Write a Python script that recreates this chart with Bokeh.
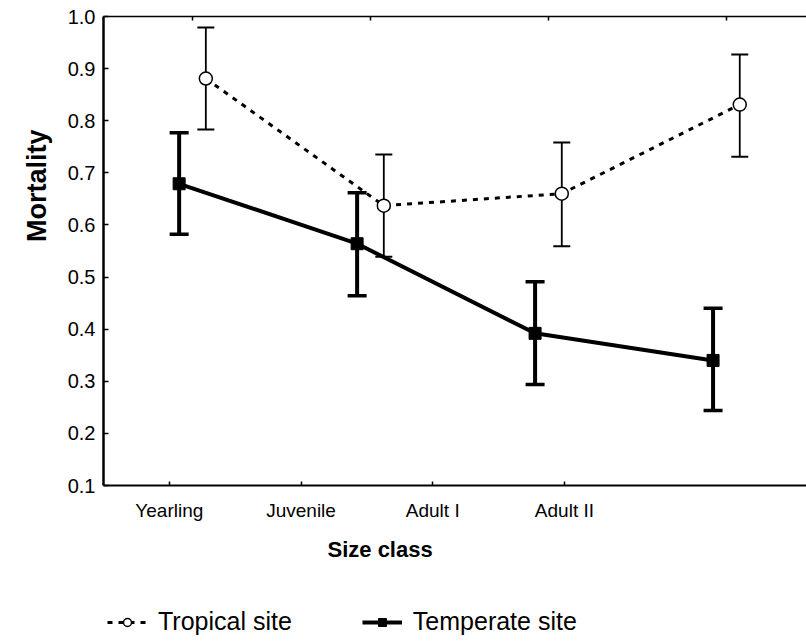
from bokeh.plotting import figure
from bokeh.layouts import column
from bokeh.models import (Range1d, LinearAxis, FixedTicker, ColumnDataSource, Whisker,
                          TeeHead, Legend, LegendItem, Title, NumeralTickFormatter)
from bokeh.embed import file_html
from bokeh.resources import INLINE

# ---- data ----
categories = ["Yearling", "Juvenile", "Adult I", "Adult II"]
tropical_mean = [0.881, 0.637, 0.660, 0.831]
tropical_upper = [0.979, 0.735, 0.758, 0.927]
tropical_lower = [0.783, 0.539, 0.559, 0.731]
temperate_mean = [0.679, 0.564, 0.392, 0.340]
temperate_upper = [0.777, 0.662, 0.491, 0.440]
temperate_lower = [0.582, 0.464, 0.294, 0.244]
y_ticks = [0.1, 0.2, 0.3, 0.4, 0.5, 0.6, 0.7, 0.8, 0.9, 1.0]
series_labels = ["Tropical site", "Temperate site"]
x_title = "Size class"
y_title = "Mortality"

FONT = "Liberation Sans"
DODGE = 0.075
x_center = [i + 0.5 for i in range(len(categories))]
x_trop = [c + DODGE for c in x_center]
x_temp = [c - DODGE for c in x_center]

p = figure(width=806, height=600, output_backend="svg", toolbar_location=None,
           x_range=Range1d(0, 3.95), y_range=Range1d(0.1, 1.0),
           x_axis_location="above",
           min_border_left=103, min_border_right=0, min_border_top=16, min_border_bottom=115)
p.grid.visible = False
p.outline_line_color = None
p.background_fill_color = "white"
p.border_fill_color = "white"

# top axis (data scale): line + small inward ticks, no labels
top = p.xaxis[0]
top.ticker = FixedTicker(ticks=x_center)
top.major_label_overrides = {c: "" for c in x_center}
top.major_tick_in = 4
top.major_tick_out = 0
top.minor_tick_in = 0
top.minor_tick_out = 0
top.major_label_standoff = 0
top.axis_line_width = 1.5
top.major_tick_line_width = 1.5

# bottom axis with category labels
p.extra_x_ranges = {"cls": Range1d(0, 5.338)}
bottom = LinearAxis(x_range_name="cls", ticker=FixedTicker(ticks=x_center),
                    major_label_overrides={c: n for c, n in zip(x_center, categories)})
bottom.major_tick_in = 4
bottom.major_tick_out = 0
bottom.minor_tick_in = 0
bottom.minor_tick_out = 0
bottom.axis_line_width = 2
bottom.major_tick_line_width = 1.5
bottom.major_label_text_font = FONT
bottom.major_label_text_font_size = "19px"
bottom.major_label_text_color = "black"
bottom.major_label_standoff = 14
p.add_layout(bottom, "below")

# y axis
ya = p.yaxis[0]
ya.ticker = FixedTicker(ticks=y_ticks)
ya.formatter = NumeralTickFormatter(format="0.0")
ya.major_tick_in = 5
ya.major_tick_out = 0
ya.minor_tick_in = 0
ya.minor_tick_out = 0
ya.axis_line_width = 2.5
ya.major_tick_line_width = 1.5
ya.major_label_text_font = FONT
ya.major_label_text_font_size = "20px"
ya.major_label_text_color = "black"
ya.major_label_standoff = 8

# error bars
src_trop = ColumnDataSource(dict(x=x_trop, y=tropical_mean, lo=tropical_lower, hi=tropical_upper))
src_temp = ColumnDataSource(dict(x=x_temp, y=temperate_mean, lo=temperate_lower, hi=temperate_upper))

w_temp = Whisker(source=src_temp, base="x", upper="hi", lower="lo", dimension="height",
                 line_width=4, line_color="black",
                 upper_head=TeeHead(size=19, line_width=3.5, line_color="black"),
                 lower_head=TeeHead(size=19, line_width=3.5, line_color="black"))
w_trop = Whisker(source=src_trop, base="x", upper="hi", lower="lo", dimension="height",
                 line_width=1.8, line_color="black",
                 upper_head=TeeHead(size=17, line_width=2, line_color="black"),
                 lower_head=TeeHead(size=17, line_width=2, line_color="black"))
p.add_layout(w_temp)
p.add_layout(w_trop)

# lines & markers
TROP_LINE = dict(line_width=3, line_color="black", line_dash="5 6")
TEMP_LINE = dict(line_width=4, line_color="black")
TROP_MARK = dict(marker="circle", size=13, fill_color="white", line_color="black", line_width=1.5)
TEMP_MARK = dict(marker="square", size=12, fill_color="black", line_color="black")

p.line("x", "y", source=src_temp, **TEMP_LINE)
p.line("x", "y", source=src_trop, **TROP_LINE)
p.scatter("x", "y", source=src_temp, **TEMP_MARK)
p.scatter("x", "y", source=src_trop, **TROP_MARK)

# axis titles as side-panel titles
p.add_layout(Title(text=y_title, align="right", offset=113, standoff=25,
                   text_font=FONT, text_font_size="27px", text_font_style="bold",
                   text_color="black"), "left")
p.add_layout(Title(text=x_title, align="left", offset=224, standoff=22,
                   text_font=FONT, text_font_size="22px", text_font_style="bold",
                   text_color="black"), "below")

# ---- legend strip below the chart (its series lie outside its visible range) ----
lg = figure(width=806, height=41, output_backend="svg", toolbar_location=None,
            x_range=Range1d(10, 11), y_range=Range1d(10, 11),
            min_border_left=0, min_border_right=0, min_border_top=0, min_border_bottom=0)
lg.axis.visible = False
lg.grid.visible = False
lg.outline_line_color = None
r1 = lg.line("x", "y", source=src_trop, **TROP_LINE)
r2 = lg.scatter("x", "y", source=src_trop, **TROP_MARK)
r3 = lg.line("x", "y", source=src_temp, **TEMP_LINE)
r4 = lg.scatter("x", "y", source=src_temp, **TEMP_MARK)
legend = Legend(items=[LegendItem(label=series_labels[0], renderers=[r1, r2]),
                       LegendItem(label=series_labels[1], renderers=[r3, r4])],
                orientation="horizontal", location=(4, 5),
                glyph_width=40, glyph_height=20, label_standoff=11, spacing=70,
                padding=0, margin=0, border_line_color=None, background_fill_alpha=0,
                label_text_font=FONT, label_text_font_size="25px", label_text_color="black")
lg.add_layout(legend, "center")

page = column(p, lg, spacing=0)
open("out.html", "w").write(file_html(page, INLINE))
